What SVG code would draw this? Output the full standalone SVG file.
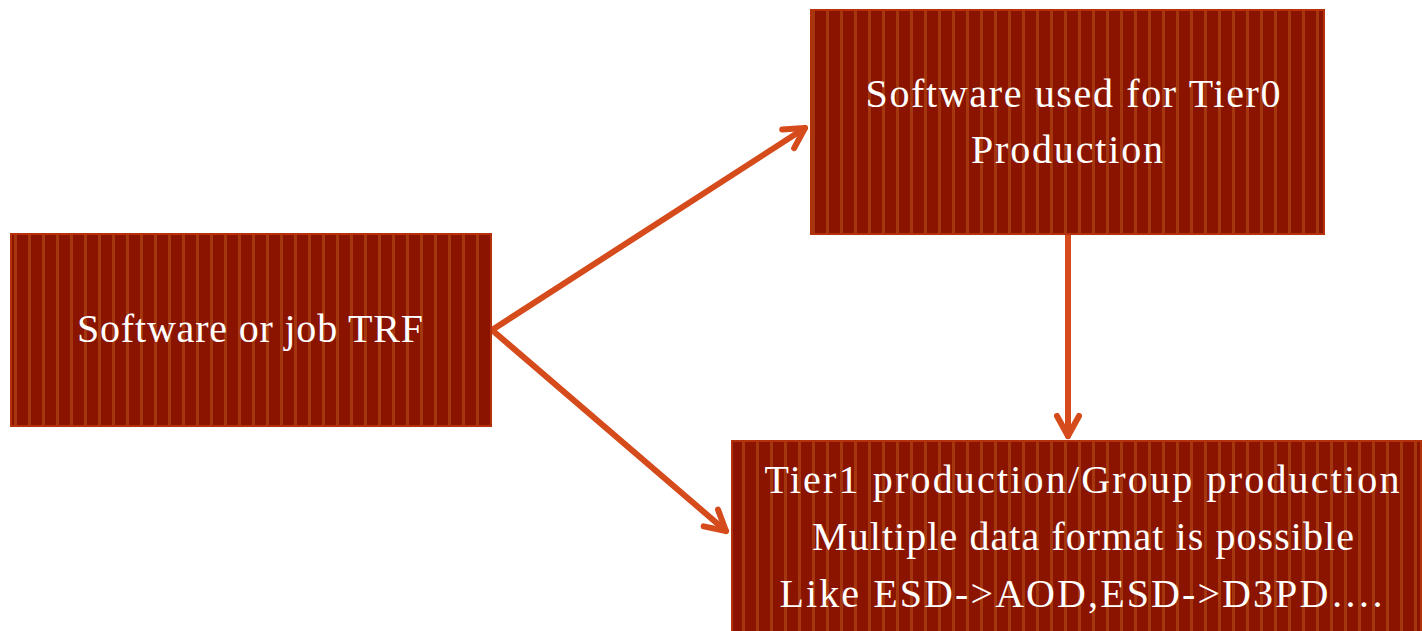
<svg xmlns="http://www.w3.org/2000/svg" width="1422" height="631" viewBox="0 0 1422 631">
<defs>
<pattern id="stripes" patternUnits="userSpaceOnUse" width="28" height="10" x="0" y="0">
<rect width="28" height="10" fill="#8A1400"/>
<rect x="0" y="0" width="3" height="10" fill="#A5370F"/>
<rect x="14" y="0" width="3" height="10" fill="#A5370F"/>
</pattern>
<marker id="ah" viewBox="0 0 30 30" refX="26" refY="15" markerWidth="30" markerHeight="30" markerUnits="userSpaceOnUse" orient="auto">
<path d="M6,4 L26,15 L6,26" fill="none" stroke="#D54B1B" stroke-width="6" stroke-linecap="round" stroke-linejoin="round"/>
</marker>
</defs>
<style>
.box{fill:url(#stripes);stroke:#B5310C;stroke-width:2}
.t{font-family:"Liberation Serif",serif;fill:#FFFFFF;text-anchor:middle;font-size:40px}
.c{fill:none;stroke:#D54B1B;stroke-width:6;stroke-linecap:round}
</style>
<g id="connectors">
<line class="c" x1="492" y1="330" x2="805" y2="128" marker-end="url(#ah)"/>
<line class="c" x1="492" y1="330" x2="726" y2="531" stroke-width="5" marker-end="url(#ah)"/>
<line class="c" x1="1068" y1="235" x2="1068" y2="436" marker-end="url(#ah)"/>
</g>
<g id="node-trf">
<rect class="box" x="11" y="234" width="480" height="192"/>
<text class="t" x="250" y="342" textLength="346" lengthAdjust="spacing">Software or job TRF</text>
</g>
<g id="node-tier0">
<rect class="box" x="811" y="10" width="513" height="224"/>
<text class="t" x="1073" y="107" textLength="415" lengthAdjust="spacing">Software used for Tier0</text>
<text class="t" x="1067" y="163" textLength="192" lengthAdjust="spacing">Production</text>
</g>
<g id="node-tier1">
<rect class="box" x="732" y="441" width="689" height="191"/>
<text class="t" x="1082" y="493" textLength="635" lengthAdjust="spacing">Tier1 production/Group production</text>
<text class="t" x="1083" y="550" textLength="542" lengthAdjust="spacing">Multiple data format is possible</text>
<text class="t" x="1081" y="607" textLength="603" lengthAdjust="spacing">Like ESD-&gt;AOD,ESD-&gt;D3PD….</text>
</g>
</svg>
